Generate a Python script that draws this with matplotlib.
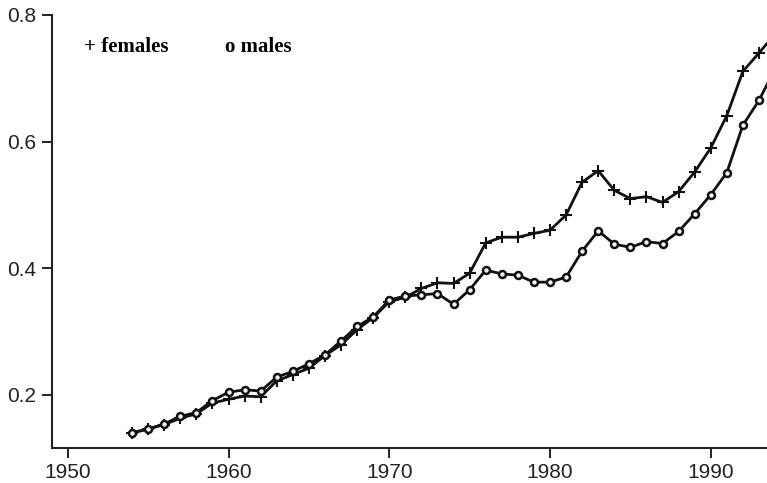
import numpy as np
import matplotlib.pyplot as plt

# Años y proporciones por sexo
anios = np.arange(1954, 1995)
mujeres = [0.140, 0.146, 0.153, 0.163, 0.170, 0.187, 0.193, 0.198, 0.197, 0.222,
           0.232, 0.242, 0.262, 0.279, 0.303, 0.322, 0.347, 0.354, 0.368, 0.377,
           0.376, 0.392, 0.440, 0.449, 0.449, 0.455, 0.460, 0.484, 0.536, 0.554,
           0.523, 0.510, 0.513, 0.504, 0.521, 0.552, 0.590, 0.641, 0.711, 0.740,
           0.770]
hombres = [0.140, 0.146, 0.154, 0.166, 0.172, 0.191, 0.204, 0.208, 0.206, 0.228,
           0.237, 0.249, 0.263, 0.285, 0.308, 0.323, 0.350, 0.356, 0.358, 0.360,
           0.343, 0.366, 0.397, 0.391, 0.389, 0.378, 0.378, 0.386, 0.427, 0.459,
           0.438, 0.433, 0.442, 0.439, 0.458, 0.486, 0.516, 0.551, 0.626, 0.665,
           0.715]

ticks_x = [1950, 1960, 1970, 1980, 1990]
ticks_y = [0.2, 0.4, 0.6, 0.8]

fig = plt.figure(figsize=(7.67, 4.83), dpi=100)
ax = fig.add_axes([51.7 / 767, 1 - 448 / 483, 1 - 51.7 / 767, (448 - 15) / 483])

ax.plot(anios, mujeres, color='#111111', linewidth=2.0, marker='+',
        markersize=8, markeredgewidth=1.5)
ax.plot(anios, hombres, color='#111111', linewidth=2.0, marker='o',
        markersize=5, markerfacecolor='#f4f4f4', markeredgewidth=1.8)

ax.set_xlim(1949, 1993.5)
ax.set_ylim(0.116, 0.8)
ax.set_xticks(ticks_x)
ax.set_yticks(ticks_y)
ax.set_yticklabels(['0.2', '0.4', '0.6', '0.8'])

for lado in ['top', 'right']:
    ax.spines[lado].set_visible(False)
for lado in ['left', 'bottom']:
    ax.spines[lado].set_linewidth(1.5)
    ax.spines[lado].set_color('#222222')

ax.tick_params(direction='out', length=7, width=1.4, colors='#222222',
               labelsize=15)
ax.tick_params(axis='y', pad=4)
ax.tick_params(axis='x', pad=3.5)
for etiqueta in ax.get_xticklabels() + ax.get_yticklabels():
    etiqueta.set_fontfamily('Liberation Sans')

# Leyenda escrita a mano, como en el original
ax.text(1951.0, 0.750, '+ females', fontsize=15, fontweight='bold',
        fontfamily='Liberation Serif', va='center', ha='left')
ax.text(1959.8, 0.750, 'o males', fontsize=15, fontweight='bold',
        fontfamily='Liberation Serif', va='center', ha='left')

fig.savefig('out.png', dpi=100)
